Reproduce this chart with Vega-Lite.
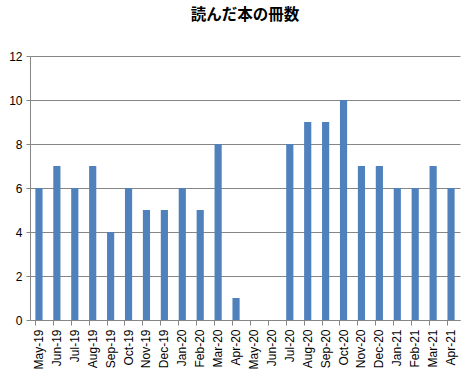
{
  "$schema": "https://vega.github.io/schema/vega-lite/v6.json",
  "autosize": {"type": "none"},
  "padding": {"left": 30, "top": 56, "right": 5, "bottom": 53},
  "width": 430,
  "height": 264,
  "background": "white",
  "title": {"text": "読んだ本の冊数", "font": "Noto Sans CJK JP", "fontSize": 15.5, "fontWeight": "bold", "color": "#000000", "offset": 27, "anchor": "middle", "frame": "group"},
  "data": {"values": [
    {"month": "May-19", "count": 6}, {"month": "Jun-19", "count": 7}, {"month": "Jul-19", "count": 6},
    {"month": "Aug-19", "count": 7}, {"month": "Sep-19", "count": 4}, {"month": "Oct-19", "count": 6},
    {"month": "Nov-19", "count": 5}, {"month": "Dec-19", "count": 5}, {"month": "Jan-20", "count": 6},
    {"month": "Feb-20", "count": 5}, {"month": "Mar-20", "count": 8}, {"month": "Apr-20", "count": 1},
    {"month": "May-20", "count": 0}, {"month": "Jun-20", "count": 0}, {"month": "Jul-20", "count": 8},
    {"month": "Aug-20", "count": 9}, {"month": "Sep-20", "count": 9}, {"month": "Oct-20", "count": 10},
    {"month": "Nov-20", "count": 7}, {"month": "Dec-20", "count": 7}, {"month": "Jan-21", "count": 6},
    {"month": "Feb-21", "count": 6}, {"month": "Mar-21", "count": 7}, {"month": "Apr-21", "count": 6}
  ]},
  "mark": {"type": "bar", "color": "#4F81BD"},
  "encoding": {
    "x": {"field": "month", "type": "nominal", "sort": null,
      "scale": {"paddingInner": 0.6, "paddingOuter": 0.3},
      "axis": {"title": null, "labelAngle": -90, "labelAlign": "right", "labelBaseline": "middle",
        "labelFont": "Liberation Sans", "labelFontSize": 12, "labelColor": "#000000", "labelPadding": 4,
        "domainColor": "#868686", "tickColor": "#868686", "tickSize": 5, "bandPosition": 0, "grid": false}},
    "y": {"field": "count", "type": "quantitative",
      "scale": {"domain": [0, 12], "nice": false},
      "axis": {"title": null, "values": [0, 2, 4, 6, 8, 10, 12], "labelFont": "Liberation Sans", "labelFontSize": 12,
        "labelColor": "#000000", "labelPadding": 4, "domainColor": "#868686", "tickColor": "#868686", "tickSize": 4,
        "grid": true, "gridColor": "#868686", "gridWidth": 1}}
  },
  "config": {"view": {"stroke": null}}
}
